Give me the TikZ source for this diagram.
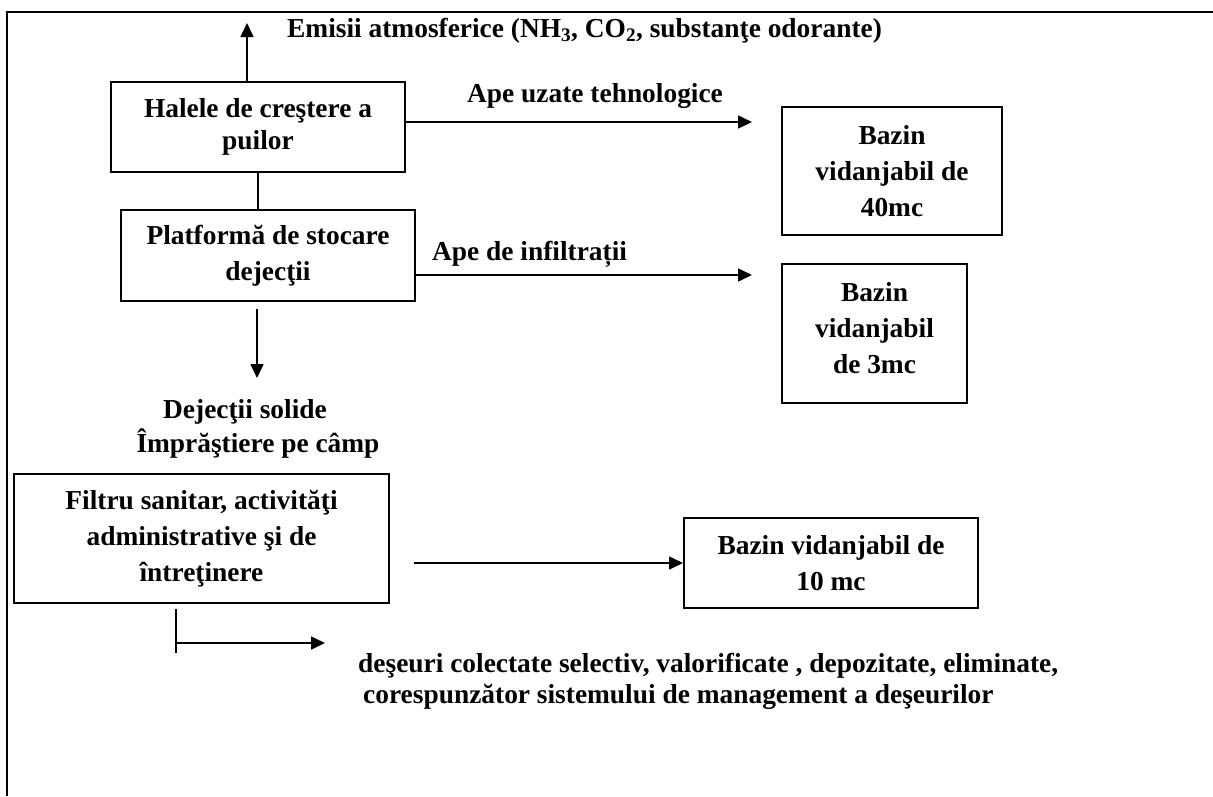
\documentclass[tikz,border=0pt]{standalone}
\usepackage{fontspec}
\setmainfont{Liberation Serif}
\usetikzlibrary{arrows.meta,positioning,calc}

\begin{document}
\begin{tikzpicture}[x=1pt,y=-1pt,
  txt/.style={font=\bfseries\fontsize{27.4}{36}\selectfont,inner sep=0pt},
  box/.style={txt,draw,line width=2pt,align=center},
  arr/.style={line width=1.6pt,-{Triangle[length=14pt,width=13pt]}},
  link/.style={line width=1.6pt}]
  \useasboundingbox (0,0) rectangle (1213,796);
  \draw[line width=2.4pt] (7,796) -- (7,12) -- (1213,12);
  % boxes
  \node[box,minimum width=294pt,minimum height=90pt,font=\bfseries\fontsize{27.4}{32}\selectfont] (hale) at (258,127) {Halele de creştere a\\puilor};
  \node[box,minimum width=294pt,minimum height=91pt] (platf) at (268,255.5) {Platformă de stocare\\dejecţii};
  \node[box,minimum width=220pt,minimum height=128pt] (bazin40) at (892,171) {Bazin\\vidanjabil de\\40mc};
  \node[box,minimum width=185pt,minimum height=139pt] (bazin3) at (874.5,333.5) {Bazin\\vidanjabil\\de 3mc\\[-24pt]\mbox{}};
  \node[box,minimum width=375pt,minimum height=129pt] (filtru) at (201.5,538.5) {Filtru sanitar, activităţi\\administrative şi de\\întreţinere};
  \node[box,minimum width=294pt,minimum height=90pt] (bazin10) at (831,563) {Bazin vidanjabil de\\10 mc};
  % labels
  \node[txt,anchor=base west] (emisii) at (287,37) {Emisii atmosferice (NH\textsubscript{3}, CO\textsubscript{2}, substanţe odorante)};
  \node[txt,anchor=base west] (apeuz) at (467,102) {Ape uzate tehnologice};
  \node[txt,anchor=base west] (apeinf) at (432,260) {Ape de infiltrații};
  \node[txt,align=center,anchor=north,font=\bfseries\fontsize{27.4}{34}\selectfont] (solide) at (258,399.5) {Dejecţii solide\hspace{26pt}\mbox{}\\Împrăştiere pe câmp};
  \node[txt,align=left,anchor=north west,font=\bfseries\fontsize{27.4}{31}\selectfont] (deseuri) at (358,653) {deşeuri colectate selectiv, valorificate , depozitate, eliminate,\\\hspace*{5pt}corespunzător sistemului de management a deşeurilor};
  % connectors
  \coordinate (emTip) at (247,23);
  \coordinate (uzTip) at (752,122);
  \coordinate (infTip) at (752,275);
  \coordinate (solA) at (257,309);
  \coordinate (solB) at (257,378);
  \coordinate (wwA) at (414,563);
  \coordinate (desA) at (176,609);
  \coordinate (desB) at (176,653);
  \coordinate (desTip) at (325,643);
  \draw[arr] (hale.north -| emTip) -- (emTip);
  \draw[arr] (hale.east |- uzTip) -- (uzTip);
  \draw[link] (hale.south) -- (hale.south |- platf.north);
  \draw[arr] (platf.east |- infTip) -- (infTip);
  \draw[arr] (solA) -- (solB);
  \draw[arr] (wwA) -- (bazin10.west);
  \draw[link] (desA) -- (desB);
  \draw[arr] (desA |- desTip) -- (desTip);
\end{tikzpicture}
\end{document}
